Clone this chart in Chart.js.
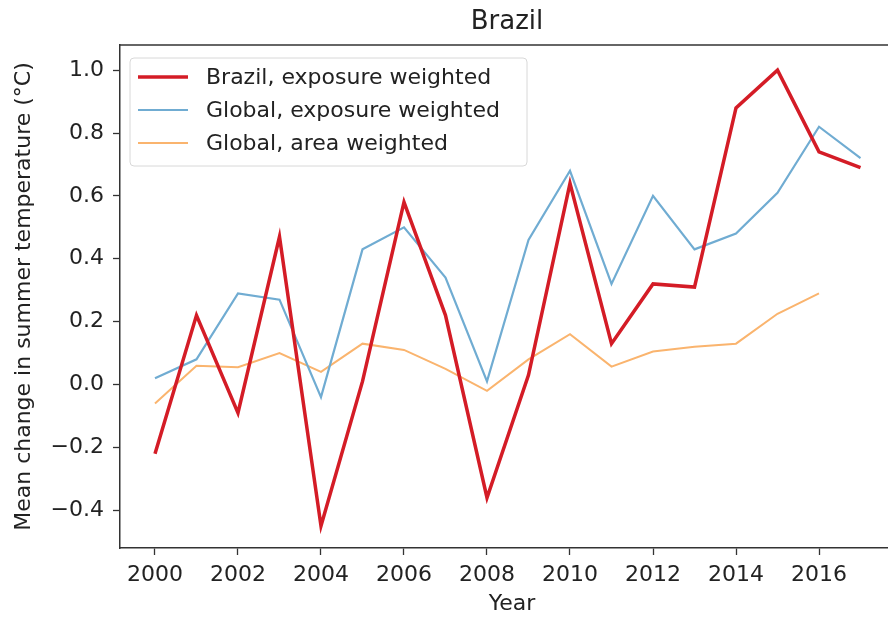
<!DOCTYPE html>
<html>
<head>
<meta charset="utf-8">
<script src="https://cdn.jsdelivr.net/npm/chart.js@4/dist/chart.umd.min.js"></script>
<style>
    html, body { margin: 0; padding: 0; background: #fff; overflow: hidden; }
    #caixa { width: 888px; height: 617px; overflow: hidden; position: relative; }
    #grafico { position: absolute; left: 0; top: 0; }
</style>
</head>
<body>
<div id="caixa"><canvas id="grafico" width="904" height="617"></canvas></div>
<script>
// Dados
const anos = [2000, 2001, 2002, 2003, 2004, 2005, 2006, 2007, 2008, 2009, 2010, 2011, 2012, 2013, 2014, 2015, 2016, 2017];
const brasilExposicao = [-0.22, 0.22, -0.09, 0.47, -0.45, 0.01, 0.58, 0.22, -0.36, 0.03, 0.64, 0.13, 0.32, 0.31, 0.88, 1.00, 0.74, 0.69];
const globalExposicao = [0.02, 0.08, 0.29, 0.27, -0.04, 0.43, 0.50, 0.34, 0.01, 0.46, 0.68, 0.32, 0.60, 0.43, 0.48, 0.61, 0.82, 0.72];
const globalArea = [-0.06, 0.06, 0.055, 0.10, 0.04, 0.13, 0.11, 0.05, -0.02, 0.08, 0.16, 0.057, 0.105, 0.12, 0.13, 0.225, 0.29, null];
const ticksX = [2000, 2002, 2004, 2006, 2008, 2010, 2012, 2014, 2016];
const ticksY = [-0.4, -0.2, 0.0, 0.2, 0.4, 0.6, 0.8, 1.0];

const fonte = 'DejaVu Sans';

function pontos(valores) {
    return anos.map((ano, i) => ({ x: ano, y: valores[i] }));
}

// Moldura de cima, título e legenda dentro da área do gráfico
const extras = {
    id: 'extras',
    afterDraw(chart) {
        const ctx = chart.ctx;
        const a = chart.chartArea;
        ctx.save();
        ctx.strokeStyle = '#333';
        ctx.lineWidth = 1.5;
        ctx.beginPath();
        ctx.moveTo(a.left, a.top);
        ctx.lineTo(a.right, a.top);
        ctx.stroke();

        ctx.fillStyle = '#222';
        ctx.font = '26px "' + fonte + '"';
        ctx.textAlign = 'center';
        ctx.textBaseline = 'middle';
        ctx.fillText('Brazil', 507, 22);

        // legenda
        const x0 = a.left + 10, y0 = a.top + 13, w = 397, h = 108;
        ctx.beginPath();
        ctx.roundRect(x0, y0, w, h, 4);
        ctx.fillStyle = 'rgba(255,255,255,0.85)';
        ctx.fill();
        ctx.strokeStyle = '#d8d8d8';
        ctx.lineWidth = 1;
        ctx.stroke();
        ctx.font = '22px "' + fonte + '"';
        ctx.textAlign = 'left';
        chart.data.datasets.forEach((ds, i) => {
            const y = y0 + 19 + i * 33;
            ctx.beginPath();
            ctx.moveTo(x0 + 8, y);
            ctx.lineTo(x0 + 58, y);
            ctx.strokeStyle = ds.borderColor;
            ctx.lineWidth = ds.borderWidth;
            ctx.stroke();
            ctx.fillStyle = '#222';
            ctx.fillText(ds.label, x0 + 76, y + 1);
        });
        ctx.restore();
    }
};

new Chart(document.getElementById('grafico').getContext('2d'), {
    type: 'line',
    data: {
        datasets: [
            {
                label: 'Brazil, exposure weighted',
                data: pontos(brasilExposicao),
                borderColor: 'rgb(212, 28, 38)',
                borderWidth: 3.5,
                pointRadius: 0,
                tension: 0
            },
            {
                label: 'Global, exposure weighted',
                data: pontos(globalExposicao),
                borderColor: 'rgb(112, 172, 210)',
                borderWidth: 2.2,
                pointRadius: 0,
                tension: 0
            },
            {
                label: 'Global, area weighted',
                data: pontos(globalArea),
                borderColor: 'rgb(250, 180, 110)',
                borderWidth: 2,
                pointRadius: 0,
                tension: 0,
                spanGaps: false
            }
        ]
    },
    options: {
        responsive: false,
        animation: false,
        devicePixelRatio: 1,
        layout: { padding: { top: 45, right: 0, left: 0, bottom: 0 } },
        scales: {
            x: {
                type: 'linear',
                min: 1999.157,
                max: 2018.048,
                afterBuildTicks: scale => { scale.ticks = ticksX.map(v => ({ value: v })); },
                afterFit: scale => { scale.height = 69; },
                ticks: {
                    callback: v => String(v),
                    color: '#222',
                    font: { family: fonte, size: 22 },
                    padding: 7,
                    maxRotation: 0
                },
                grid: { drawOnChartArea: false, tickLength: 7, tickColor: '#333', tickWidth: 1.3 },
                border: { color: '#333', width: 1.5 },
                title: {
                    display: true,
                    text: 'Year',
                    color: '#222',
                    font: { family: fonte, size: 22 },
                    padding: { top: 0, bottom: 0 }
                }
            },
            y: {
                min: -0.52,
                max: 1.08,
                afterBuildTicks: scale => { scale.ticks = ticksY.map(v => ({ value: v })); },
                afterFit: scale => { scale.width = 120; },
                ticks: {
                    callback: v => (v < 0 ? '\u2212' : '') + Math.abs(v).toFixed(1),
                    color: '#222',
                    font: { family: fonte, size: 22 },
                    padding: 9
                },
                grid: { drawOnChartArea: false, tickLength: 7, tickColor: '#333', tickWidth: 1.3 },
                border: { color: '#333', width: 1.5 },
                title: {
                    display: true,
                    text: 'Mean change in summer temperature (\u00b0C)',
                    color: '#222',
                    font: { family: fonte, size: 22 },
                    padding: { top: 11, bottom: 0 }
                }
            }
        },
        plugins: {
            legend: { display: false },
            tooltip: { enabled: false }
        }
    },
    plugins: [extras]
});
</script>
</body>
</html>
